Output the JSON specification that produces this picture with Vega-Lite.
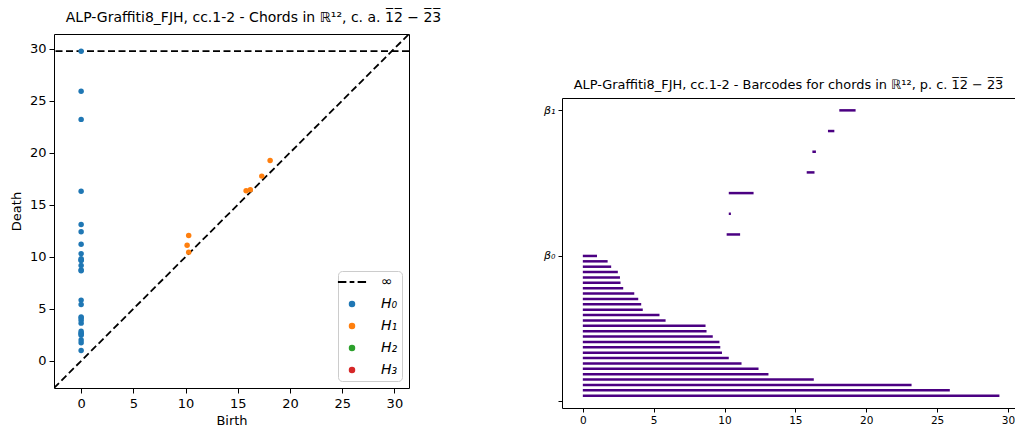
{
  "$schema": "https://vega.github.io/schema/vega-lite/v6.json",
  "padding": {"left": 9, "top": 10, "right": 0, "bottom": 0},
  "background": "white",
  "config": {
    "font": "DejaVu Sans",
    "view": {"stroke": "black", "strokeWidth": 1},
    "axis": {"grid": false, "labelColor": "black", "tickColor": "black", "domainColor": "black", "titleColor": "black", "labelFont": "DejaVu Sans", "titleFont": "DejaVu Sans", "titleFontWeight": "normal"},
    "title": {"fontWeight": "normal", "color": "black", "font": "DejaVu Sans"}
  },
  "datasets": {
    "pairs": [
      {"dim": "H₀", "birth": 0, "death": 1.0, "pos": 27},
      {"dim": "H₀", "birth": 0, "death": 1.75, "pos": 26},
      {"dim": "H₀", "birth": 0, "death": 2.0, "pos": 25},
      {"dim": "H₀", "birth": 0, "death": 2.47, "pos": 24},
      {"dim": "H₀", "birth": 0, "death": 2.62, "pos": 23},
      {"dim": "H₀", "birth": 0, "death": 2.66, "pos": 22},
      {"dim": "H₀", "birth": 0, "death": 2.85, "pos": 21},
      {"dim": "H₀", "birth": 0, "death": 3.63, "pos": 20},
      {"dim": "H₀", "birth": 0, "death": 3.91, "pos": 19},
      {"dim": "H₀", "birth": 0, "death": 4.12, "pos": 18},
      {"dim": "H₀", "birth": 0, "death": 4.23, "pos": 17},
      {"dim": "H₀", "birth": 0, "death": 5.41, "pos": 16},
      {"dim": "H₀", "birth": 0, "death": 5.84, "pos": 15},
      {"dim": "H₀", "birth": 0, "death": 8.66, "pos": 14},
      {"dim": "H₀", "birth": 0, "death": 8.73, "pos": 13},
      {"dim": "H₀", "birth": 0, "death": 9.17, "pos": 12},
      {"dim": "H₀", "birth": 0, "death": 9.64, "pos": 11},
      {"dim": "H₀", "birth": 0, "death": 9.7, "pos": 10},
      {"dim": "H₀", "birth": 0, "death": 9.82, "pos": 9},
      {"dim": "H₀", "birth": 0, "death": 10.3, "pos": 8},
      {"dim": "H₀", "birth": 0, "death": 11.2, "pos": 7},
      {"dim": "H₀", "birth": 0, "death": 12.4, "pos": 6},
      {"dim": "H₀", "birth": 0, "death": 13.1, "pos": 5},
      {"dim": "H₀", "birth": 0, "death": 16.3, "pos": 4},
      {"dim": "H₀", "birth": 0, "death": 23.2, "pos": 3},
      {"dim": "H₀", "birth": 0, "death": 25.9, "pos": 2},
      {"dim": "H₀", "birth": 0, "death": 29.4, "pos": 1, "inf": true},
      {"dim": "H₁", "birth": 10.15, "death": 11.1, "pos": 31.0},
      {"dim": "H₁", "birth": 10.3, "death": 10.45, "pos": 34.85},
      {"dim": "H₁", "birth": 10.3, "death": 12.05, "pos": 38.7},
      {"dim": "H₁", "birth": 15.8, "death": 16.35, "pos": 42.55},
      {"dim": "H₁", "birth": 16.2, "death": 16.45, "pos": 46.4},
      {"dim": "H₁", "birth": 17.3, "death": 17.75, "pos": 50.25},
      {"dim": "H₁", "birth": 18.1, "death": 19.25, "pos": 54.1}
    ],
    "diag": [
      {"b": -2.6, "d": -2.6},
      {"b": 31.4, "d": 31.4}
    ]
  },
  "spacing": 101,
  "resolve": {"scale": {"color": "independent", "shape": "independent", "stroke": "independent"}, "legend": {"color": "independent", "shape": "independent", "stroke": "independent"}},
  "hconcat": [
    {
      "width": 355,
      "height": 354,
      "title": {"text": "ALP-Graffiti8_FJH, cc.1-2 - Chords in ℝ¹², c. a. 1\u03052\u0305 − 2\u03053\u0305", "fontSize": 14, "offset": 9, "dx": 22},
      "layer": [
        {
          "data": {"name": "diag"},
          "mark": {"type": "line", "color": "black", "strokeWidth": 1.8, "strokeDash": [7, 3.5], "clip": true},
          "encoding": {
            "x": {"field": "b", "type": "quantitative", "scale": {"domain": [-2.6, 31.4], "nice": false, "zero": false},
                  "axis": {"values": [0, 5, 10, 15, 20, 25, 30], "title": "Birth", "titleFontSize": 13, "labelFontSize": 13, "tickSize": 5, "labelPadding": 4, "titlePadding": 4, "domain": false}},
            "y": {"field": "d", "type": "quantitative", "scale": {"domain": [-2.6, 31.4], "nice": false, "zero": false},
                  "axis": {"values": [0, 5, 10, 15, 20, 25, 30], "title": "Death", "titleFontSize": 13, "labelFontSize": 13, "tickSize": 5, "labelPadding": 3, "titlePadding": 6, "domain": false}}
          }
        },
        {
          "data": {"values": [{}]},
          "mark": {"type": "rule", "color": "black", "strokeWidth": 1.8, "strokeDash": [7, 3.5]},
          "encoding": {"y": {"datum": 29.75, "type": "quantitative"}}
        },
        {
          "data": {"name": "pairs"},
          "transform": [{"filter": "!datum.inf"}],
          "mark": {"type": "point", "filled": true, "opacity": 1, "size": 30, "strokeWidth": 0},
          "encoding": {
            "x": {"field": "birth", "type": "quantitative"},
            "y": {"field": "death", "type": "quantitative"},
            "color": {
              "field": "dim", "type": "nominal",
              "scale": {"domain": ["∞", "H₀", "H₁", "H₂", "H₃"], "range": ["black", "#1f77b4", "#ff7f0e", "#2ca02c", "#d62728"]},
              "legend": {
                "orient": "bottom-right", "offset": 7, "title": null,
                "fillColor": "white", "strokeColor": "#cccccc", "cornerRadius": 4, "padding": 4,
                "labelFontSize": 14, "labelFont": "DejaVu Sans", "labelColor": "black", "labelFontStyle": "italic",
                "symbolSize": 22, "symbolOffset": 3, "labelOffset": 22, "rowPadding": 8, "symbolStrokeWidth": 1.8
              }
            },
            "stroke": {
              "field": "dim", "type": "nominal",
              "scale": {"domain": ["∞", "H₀", "H₁", "H₂", "H₃"], "range": ["black", "#1f77b4", "#ff7f0e", "#2ca02c", "#d62728"]},
              "legend": {
                "orient": "bottom-right", "offset": 7, "title": null,
                "fillColor": "white", "strokeColor": "#cccccc", "cornerRadius": 4, "padding": 4,
                "labelFontSize": 14, "labelFont": "DejaVu Sans", "labelColor": "black", "labelFontStyle": "italic",
                "symbolSize": 22, "symbolOffset": 3, "labelOffset": 22, "rowPadding": 8, "symbolStrokeWidth": 1.8
              }
            },
            "shape": {
              "field": "dim", "type": "nominal",
              "scale": {"domain": ["∞", "H₀", "H₁", "H₂", "H₃"], "range": ["M-6,0H-2.4M-1,0H1M2.4,0H6", "circle", "circle", "circle", "circle"]},
              "legend": {
                "orient": "bottom-right", "offset": 7, "title": null,
                "fillColor": "white", "strokeColor": "#cccccc", "cornerRadius": 4, "padding": 4,
                "labelFontSize": 14, "labelFont": "DejaVu Sans", "labelColor": "black", "labelFontStyle": "italic",
                "symbolSize": 22, "symbolOffset": 3, "labelOffset": 22, "rowPadding": 8, "symbolStrokeWidth": 1.8
              }
            }
          }
        },
        {
          "data": {"values": [{}]},
          "mark": {"type": "point", "filled": true, "opacity": 1, "size": 30, "strokeWidth": 0, "color": "#1f77b4"},
          "encoding": {
            "x": {"datum": 0, "type": "quantitative"},
            "y": {"datum": 29.75, "type": "quantitative"}
          }
        }
      ]
    },
    {
      "spacing": 0,
      "vconcat": [
        {
          "width": 1,
          "height": 45,
          "view": {"stroke": null},
          "data": {"values": []},
          "mark": "point",
          "encoding": {}
        },
        {
          "width": 453,
          "height": 310,
          "view": {"stroke": null},
          "title": {"text": "ALP-Graffiti8_FJH, cc.1-2 - Barcodes for chords in ℝ¹², p. c. 1\u03052\u0305 − 2\u03053\u0305", "fontSize": 12.9, "offset": 6},
          "data": {"name": "pairs"},
          "layer": [
            {
              "transform": [{"filter": "datum.dim === 'H₀'"}],
              "mark": {"type": "rule", "color": "#4b0082", "strokeWidth": 2.5},
              "encoding": {
                "x": {"field": "birth", "type": "quantitative", "scale": {"domain": [-1.47, 30.5], "nice": false, "zero": false},
                      "axis": {"values": [0, 5, 10, 15, 20, 25, 30], "title": null, "labelFontSize": 10.5, "tickSize": 4, "labelPadding": 3, "domain": true}},
                "x2": {"field": "death"},
                "y": {"field": "pos", "type": "quantitative", "scale": {"domain": [-1.3, 56.4], "nice": false, "zero": false},
                      "axis": {"values": [0, 27, 54.1], "title": null, "labelFontSize": 11, "labelFontStyle": "italic", "tickSize": 4, "labelPadding": 3, "domain": true,
                               "labelExpr": "datum.value == 27 ? 'β₀' : datum.value > 50 ? 'β₁' : ''"}}
              }
            },
            {
              "transform": [{"filter": "datum.dim !== 'H₀'"}],
              "mark": {"type": "rule", "color": "#4b0082", "strokeWidth": 2.5},
              "encoding": {
                "x": {"field": "birth", "type": "quantitative", "scale": {"domain": [-1.47, 30.5], "nice": false, "zero": false},
                      "axis": {"orient": "top", "labels": false, "ticks": false, "title": null, "domain": true}},
                "x2": {"field": "death"},
                "y": {"field": "pos", "type": "quantitative"}
              }
            }
          ],
          "resolve": {"axis": {"x": "independent"}}
        }
      ]
    }
  ]
}
